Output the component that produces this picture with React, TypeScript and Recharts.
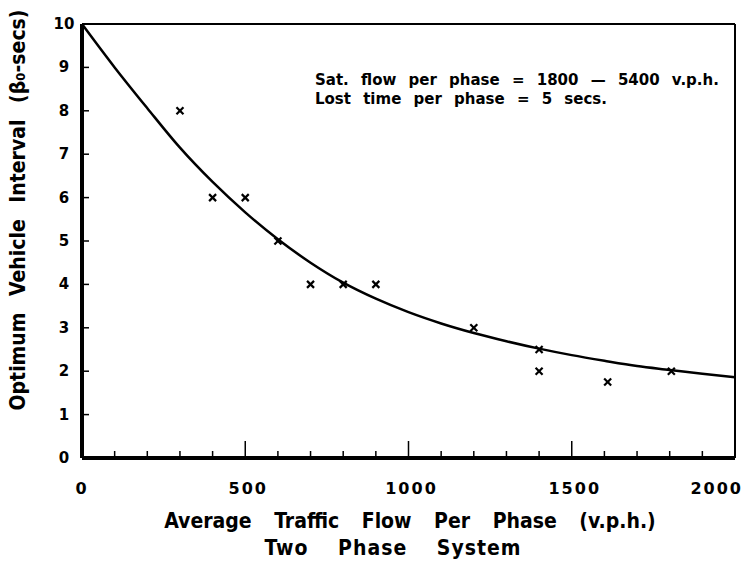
import React from 'react';
import {
  ComposedChart,
  Line,
  Scatter,
  XAxis,
  YAxis,
  ReferenceLine
} from 'recharts';

// fitted curve, every 100 v.p.h.
const curveFlow = [0, 100, 200, 300, 400, 500, 600, 700, 800, 900, 1000, 1100, 1200, 1300, 1400, 1500, 1600, 1700, 1800, 1900, 2000];
const curveInterval = [10, 9.0, 8.06, 7.15, 6.36, 5.66, 5.04, 4.5, 4.04, 3.67, 3.36, 3.1, 2.88, 2.69, 2.52, 2.37, 2.24, 2.12, 2.03, 1.94, 1.86];

// observed points (crosses)
const obsFlow = [300, 400, 500, 600, 700, 800, 900, 1200, 1400, 1400, 1610, 1805];
const obsInterval = [8, 6, 6, 5, 4, 4, 4, 3, 2.5, 2, 1.75, 2];

const xTicks = [0, 100, 200, 300, 400, 500, 600, 700, 800, 900, 1000, 1100, 1200, 1300, 1400, 1500, 1600, 1700, 1800, 1900, 2000];
const xLabelled = [0, 500, 1000, 1500, 2000];
const yTicks = [0, 1, 2, 3, 4, 5, 6, 7, 8, 9, 10];

const curveData = curveFlow.map((x, i) => ({ x, y: curveInterval[i] }));
const obsData = obsFlow.map((x, i) => ({ x, y: obsInterval[i] }));

const labelFont = '"DejaVu Sans", sans-serif';
const titleFont = '"DejaVu Sans Condensed", "DejaVu Sans", sans-serif';

const XTick = (props: any) => {
  const { x, y, payload } = props;
  const v = payload.value;
  const major = v === 500 || v === 1000 || v === 1500;
  const showLabel = xLabelled.includes(v);
  const last = v === 2000;
  return (
    <g>
      {v !== 0 && !last && (
        <line x1={x} x2={x} y1={y} y2={y - (major ? 17 : 7)} stroke="#000" strokeWidth={1.5} />
      )}
      {showLabel && (
        <text
          x={last ? x + 8 : x + (v === 0 ? 0 : 3)}
          y={y + 36}
          textAnchor={last ? 'end' : 'middle'}
          fontFamily={labelFont}
          fontWeight="bold"
          fontSize={16}
          letterSpacing={2}
          fill="#000"
        >
          {v}
        </text>
      )}
    </g>
  );
};

const YTick = (props: any) => {
  const { x, y, payload } = props;
  const v = payload.value;
  return (
    <g>
      {v !== 0 && v !== 10 && (
        <line x1={x} x2={x + 7} y1={y} y2={y} stroke="#000" strokeWidth={1.5} />
      )}
      <text x={x - 18} y={y + 5} textAnchor="middle" fontFamily={labelFont} fontWeight="bold" fontSize={15} fill="#000">
        {v}
      </text>
    </g>
  );
};

const Cross = (props: any) => {
  const { cx, cy } = props;
  const s = 3.5;
  return (
    <g stroke="#000" strokeWidth={2.2}>
      <line x1={cx - s} y1={cy - s} x2={cx + s} y2={cy + s} />
      <line x1={cx - s} y1={cy + s} x2={cx + s} y2={cy - s} />
    </g>
  );
};

const noteStyle: React.CSSProperties = {
  position: 'absolute',
  left: 315,
  fontFamily: labelFont,
  fontWeight: 'bold',
  fontSize: 15,
  wordSpacing: 7,
  whiteSpace: 'nowrap',
  lineHeight: '16px'
};

const titleStyle: React.CSSProperties = {
  position: 'absolute',
  textAlign: 'center',
  fontFamily: titleFont,
  fontWeight: 'bold',
  fontSize: 21,
  whiteSpace: 'nowrap',
  lineHeight: '26px'
};

const App: React.FC = () => {
  return (
    <div style={{ position: 'absolute', left: 0, top: 0, width: 744, height: 572, background: '#fff' }}>
      <ComposedChart
        width={744}
        height={572}
        margin={{ top: 24, right: 9, bottom: 84, left: 32 }}
      >
        <XAxis
          type="number"
          dataKey="x"
          domain={[0, 2000]}
          ticks={xTicks}
          interval={0}
          height={30}
          tickSize={0}
          tickMargin={0}
          tickLine={false}
          axisLine={{ stroke: '#000', strokeWidth: 4 }}
          tick={<XTick />}
        />
        <YAxis
          type="number"
          dataKey="y"
          domain={[0, 10]}
          ticks={yTicks}
          interval={0}
          width={50}
          tickSize={0}
          tickMargin={0}
          tickLine={false}
          axisLine={{ stroke: '#000', strokeWidth: 4 }}
          tick={<YTick />}
        />
        <ReferenceLine y={10} stroke="#000" strokeWidth={2} />
        <ReferenceLine x={2000} stroke="#000" strokeWidth={2} />
        <Line
          data={curveData}
          dataKey="y"
          type="monotone"
          stroke="#000"
          strokeWidth={2.5}
          dot={false}
          isAnimationActive={false}
        />
        <Scatter
          data={obsData}
          dataKey="y"
          shape={<Cross />}
          isAnimationActive={false}
        />
      </ComposedChart>

      <div style={{ ...noteStyle, top: 72 }}>
        Sat. flow per phase = 1800 — 5400 v.p.h.
      </div>
      <div style={{ ...noteStyle, top: 91 }}>
        Lost time per phase = 5 secs.
      </div>

      <div style={{ ...titleStyle, left: 0, width: 820, top: 508, wordSpacing: 16 }}>
        Average Traffic Flow Per Phase (v.p.h.)
      </div>
      <div style={{ ...titleStyle, left: 0, width: 786, top: 535, wordSpacing: 22, letterSpacing: 1 }}>
        Two Phase System
      </div>

      <div style={{ position: 'absolute', left: 18, top: 210, width: 0, height: 0 }}>
        <div style={{ position: 'absolute', left: 0, top: 0, transform: 'translate(-50%, -50%) rotate(-90deg)', fontFamily: titleFont, fontWeight: 'bold', fontSize: 21, wordSpacing: 10, whiteSpace: 'nowrap' }}>
          Optimum Vehicle Interval (β₀-secs)
        </div>
      </div>
    </div>
  );
};

export default App;
